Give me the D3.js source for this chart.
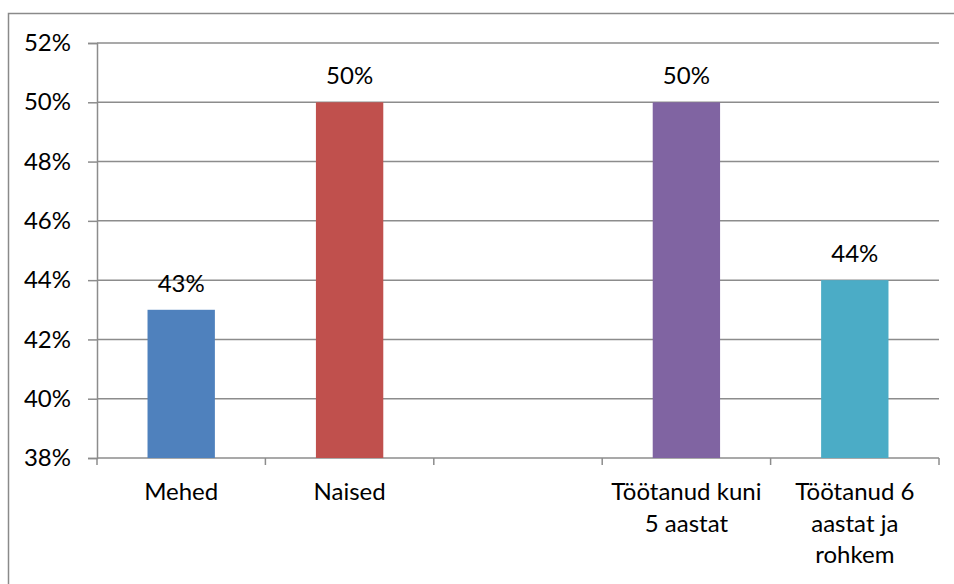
<!DOCTYPE html>
<html>
<head>
<meta charset="utf-8">
<script src="https://cdn.jsdelivr.net/npm/d3@7"></script>
<style>
  html, body { margin: 0; padding: 0; background: #fff; }
  svg { display: block; font-family: Lato, "Liberation Sans", sans-serif; }
</style>
</head>
<body>
<svg id="chart" width="954" height="584"></svg>
<script>
// Share by group (percent); the third slot is an intentional gap.
// Category labels are given as the lines they are printed on.
const categories = [["Mehed"], ["Naised"], [], ["Töötanud kuni", "5 aastat"], ["Töötanud 6", "aastat ja", "rohkem"]];
const values = [43, 50, null, 50, 44];
const colors = ["#4F81BD", "#C0504D", "none", "#8064A2", "#4BACC6"];
const yTicks = [38, 40, 42, 44, 46, 48, 50, 52];

const svg = d3.select("#chart");
const W = 954, H = 584;
const margin = { left: 97, right: 15, top: 43, bottom: 126 };
const x0 = margin.left, x1 = W - margin.right;
const yTop = margin.top, yBot = H - margin.bottom;

// Outer chart frame
svg.append("rect")
  .attr("x", 8.5).attr("y", 13.5)
  .attr("width", W).attr("height", H)
  .attr("fill", "none").attr("stroke", "#8a8a8a").attr("stroke-width", 1.5);

const keys = categories.map((c, i) => i);
const x = d3.scaleBand().domain(keys).range([x0, x1]).paddingInner(0.6).paddingOuter(0.3);
const y = d3.scaleLinear().domain([38, 52]).range([yBot, yTop]);

const fontSize = 24;

// Horizontal gridlines
svg.append("g")
  .selectAll("line").data(yTicks.slice(1)).join("line")
  .attr("x1", x0).attr("x2", x1)
  .attr("y1", d => y(d)).attr("y2", d => y(d))
  .attr("stroke", "#8c8c8c").attr("stroke-width", 1.5);

// Y axis
const yAxis = svg.append("g").attr("transform", `translate(${x0},0)`)
  .call(d3.axisLeft(y).tickValues(yTicks).tickFormat(d => d + "%").tickSize(9).tickPadding(17));
yAxis.select(".domain").attr("stroke", "#8c8c8c").attr("stroke-width", 1.5);
yAxis.selectAll(".tick line").attr("stroke", "#8c8c8c").attr("stroke-width", 1.5);
yAxis.selectAll(".tick text")
  .attr("font-size", fontSize).attr("fill", "#000")
  .attr("font-family", "Lato, sans-serif");

// X axis baseline with tick marks at slot boundaries
const step = x.step();
const boundaries = d3.range(categories.length + 1).map(i => x0 + i * step);
svg.append("line")
  .attr("x1", x0).attr("x2", x1).attr("y1", yBot).attr("y2", yBot)
  .attr("stroke", "#8c8c8c").attr("stroke-width", 1.5);
svg.append("g").selectAll("line").data(boundaries).join("line")
  .attr("x1", d => d).attr("x2", d => d)
  .attr("y1", yBot).attr("y2", yBot + 7)
  .attr("stroke", "#8c8c8c").attr("stroke-width", 1.5);

// Bars
const data = keys.filter(i => values[i] != null);
svg.append("g").selectAll("rect").data(data).join("rect")
  .attr("x", i => x(i)).attr("width", x.bandwidth())
  .attr("y", i => y(values[i])).attr("height", i => yBot - y(values[i]))
  .attr("fill", i => colors[i]);

// Value labels
svg.append("g").selectAll("text").data(data).join("text")
  .attr("x", i => x(i) + x.bandwidth() / 2)
  .attr("y", i => y(values[i]) - 18)
  .attr("text-anchor", "middle")
  .attr("font-size", fontSize).attr("fill", "#000")
  .text(i => values[i] + "%");

// Category labels
svg.append("g").selectAll("text").data(keys).join("text")
  .attr("text-anchor", "middle")
  .attr("font-size", fontSize).attr("fill", "#000")
  .each(function (i) {
    const cx = x(i) + x.bandwidth() / 2;
    d3.select(this).selectAll("tspan").data(categories[i]).join("tspan")
      .attr("x", cx)
      .attr("y", (d, k) => yBot + 42 + k * 31.5)
      .text(d => d);
  });
</script>
</body>
</html>
